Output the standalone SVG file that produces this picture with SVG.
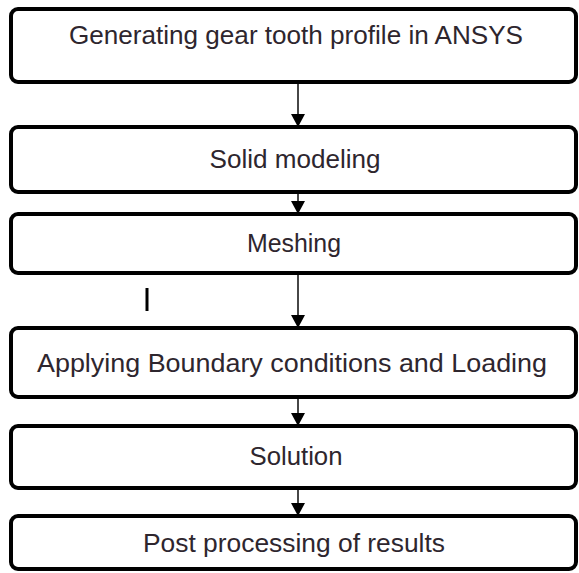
<svg xmlns="http://www.w3.org/2000/svg" width="579" height="573" viewBox="0 0 579 573">
<style>
.box{fill:#fff;stroke:#000;stroke-width:4}
.lbl{font-family:"Liberation Sans",Arial,sans-serif;font-size:25px;fill:#2e262e;text-anchor:middle}
.conn{stroke:#333;stroke-width:1.8;fill:none}
</style>
<defs>
<marker id="ah" markerUnits="userSpaceOnUse" markerWidth="16" markerHeight="14" refX="13" refY="7" orient="auto">
<path d="M0,0 L13,7 L0,14 Z" fill="#000"/>
</marker>
</defs>
<rect width="579" height="573" fill="#fff"/>
<g id="connectors">
<line class="conn" x1="298" y1="82" x2="298" y2="127" marker-end="url(#ah)"/>
<line class="conn" x1="298" y1="192" x2="298" y2="214" marker-end="url(#ah)"/>
<line class="conn" x1="298" y1="273" x2="298" y2="328" marker-end="url(#ah)"/>
<line class="conn" x1="298" y1="397" x2="298" y2="426" marker-end="url(#ah)"/>
<line class="conn" x1="298" y1="488" x2="298" y2="516" marker-end="url(#ah)"/>
</g>
<g id="n1"><rect class="box" x="11" y="9" width="565" height="73" rx="7"/><text class="lbl" x="296" y="44" textLength="454" lengthAdjust="spacingAndGlyphs">Generating gear tooth profile in ANSYS</text></g>
<g id="n2"><rect class="box" x="11" y="127" width="565" height="65" rx="7"/><text class="lbl" x="295" y="168" textLength="171" lengthAdjust="spacingAndGlyphs">Solid modeling</text></g>
<g id="n3"><rect class="box" x="11" y="214" width="565" height="59" rx="7"/><text class="lbl" x="294" y="252" textLength="94" lengthAdjust="spacingAndGlyphs">Meshing</text></g>
<g id="n4"><rect class="box" x="11" y="328" width="565" height="69" rx="7"/><text class="lbl" x="292" y="372" textLength="510" lengthAdjust="spacingAndGlyphs">Applying Boundary conditions and Loading</text></g>
<g id="n5"><rect class="box" x="11" y="426" width="565" height="62" rx="7"/><text class="lbl" x="296" y="465" textLength="93" lengthAdjust="spacingAndGlyphs">Solution</text></g>
<g id="n6"><rect class="box" x="11" y="516" width="565" height="53" rx="7"/><text class="lbl" x="294" y="552" textLength="302" lengthAdjust="spacingAndGlyphs">Post processing of results</text></g>
<line x1="147" y1="288" x2="147" y2="311" stroke="#000" stroke-width="3"/>
</svg>
